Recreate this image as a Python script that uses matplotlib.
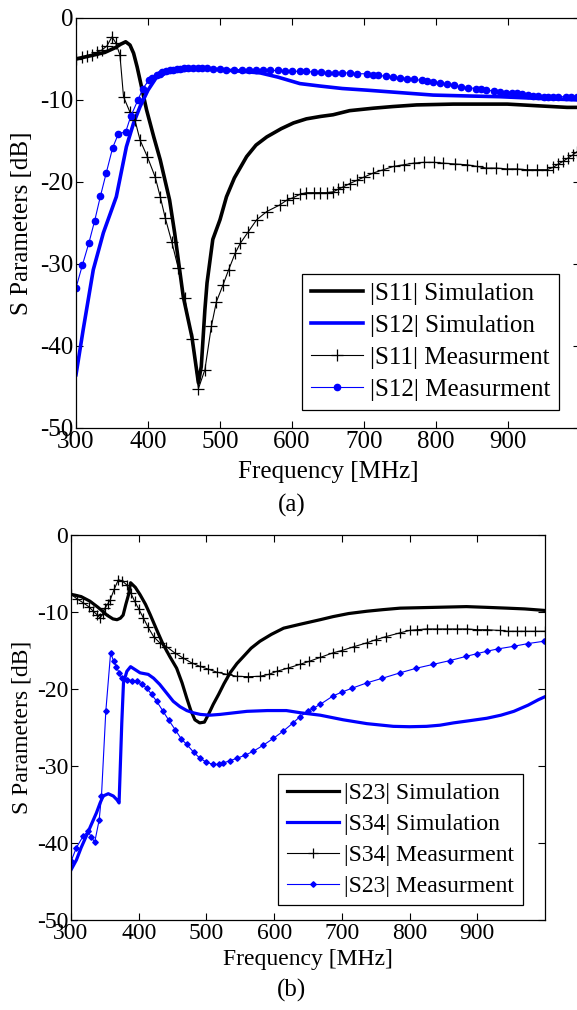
import matplotlib
matplotlib.use("Agg")
import matplotlib.pyplot as plt

plt.rcParams['font.family'] = ['Liberation Serif', 'DejaVu Serif']
plt.rcParams['axes.unicode_minus'] = False

# ---------------- panel (a) data ----------------
s11_sim_f = [300, 320, 340, 355, 362, 369, 375, 380, 385, 392, 398, 408, 417, 430,
             437, 449, 461, 470, 474, 479, 482, 490, 500, 509, 520, 537, 550, 565,
             585, 602, 620, 640, 657, 680, 713, 740, 773, 824, 860, 899, 940, 982, 1000]
s11_sim_db = [-5.0, -4.6, -4.2, -3.6, -3.2, -2.9, -3.3, -4.3, -6.0, -8.8, -11.2, -14.5,
              -17.3, -22.2, -26.2, -34.0, -38.9, -44.5, -42.5, -35.6, -32.3, -27.0,
              -24.6, -21.8, -19.5, -16.9, -15.5, -14.5, -13.5, -12.8, -12.3, -12.0,
              -11.8, -11.3, -11.0, -10.8, -10.6, -10.5, -10.5, -10.5, -10.7, -10.9, -10.9]

s12_sim_f = [300, 310, 324, 338, 356, 370, 380, 389, 400, 412, 425, 440, 460, 477, 500,
             530, 556, 580, 611, 639, 670, 704, 750, 796, 840, 889, 940, 1000]
s12_sim_db = [-43.5, -38.0, -30.7, -26.2, -21.8, -15.7, -12.8, -10.8, -8.8, -7.2, -6.7,
              -6.5, -6.3, -6.2, -6.3, -6.5, -6.7, -7.2, -8.0, -8.3, -8.6, -8.8, -9.1,
              -9.4, -9.5, -9.6, -9.8, -10.0]

s11_meas_f = [300, 308, 315, 322, 329, 336, 343, 350, 355, 361, 366, 375, 382, 389, 399,
              410, 417, 424, 433, 442, 451, 461, 470, 479, 488, 495, 504, 512, 521, 528,
              539, 551, 565, 583, 593, 602, 611, 620, 630, 639, 648, 657, 664, 671, 680,
              690, 700, 713, 727, 741, 755, 769, 783, 797, 810, 826, 843, 857, 870, 884,
              898, 912, 926, 940, 954, 963, 970, 976, 983, 990, 996]
s11_meas_db = [-5.0, -4.8, -4.6, -4.5, -4.2, -3.9, -3.4, -2.3, -3.0, -4.5, -9.6, -11.5,
               -12.5, -14.9, -16.9, -19.4, -21.8, -24.4, -27.3, -30.5, -34.2, -39.1,
               -45.2, -42.9, -37.6, -34.6, -32.6, -30.7, -28.7, -27.5, -26.1, -24.6,
               -23.6, -22.8, -22.2, -21.9, -21.5, -21.3, -21.3, -21.3, -21.3, -21.2,
               -20.9, -20.6, -20.2, -19.8, -19.4, -18.9, -18.5, -18.1, -17.9, -17.7,
               -17.6, -17.6, -17.7, -17.8, -17.9, -18.1, -18.3, -18.3, -18.4, -18.4,
               -18.5, -18.5, -18.5, -18.2, -17.8, -17.5, -17.1, -16.7, -16.3]

s12_meas_f = [300, 309, 318, 326, 334, 342, 351, 359, 369, 376, 386, 393, 401, 406, 412,
              416, 420, 425, 430, 435, 440, 445, 450, 456, 463, 469, 475, 482, 490, 500,
              509, 520, 530, 540, 550, 560, 570, 580, 590, 600, 611, 620, 630, 640, 650,
              660, 670, 680, 690, 704, 712, 720, 730, 740, 750, 760, 770, 780, 788, 796,
              805, 815, 825, 835, 845, 855, 862, 870, 880, 889, 897, 905, 912, 920, 928,
              935, 942, 950, 956, 963, 970, 980, 988, 996]
s12_meas_db = [-32.9, -30.1, -27.4, -24.7, -21.7, -18.9, -15.8, -14.1, -13.9, -12.0,
               -10.0, -8.6, -7.6, -7.3, -7.0, -6.8, -6.6, -6.5, -6.3, -6.3, -6.2, -6.2,
               -6.1, -6.1, -6.1, -6.1, -6.1, -6.1, -6.2, -6.2, -6.3, -6.3, -6.3, -6.3,
               -6.4, -6.4, -6.4, -6.4, -6.5, -6.5, -6.5, -6.5, -6.6, -6.6, -6.7, -6.7,
               -6.7, -6.7, -6.8, -6.8, -6.9, -7.0, -7.1, -7.2, -7.3, -7.4, -7.5, -7.6,
               -7.7, -7.8, -7.9, -8.1, -8.2, -8.4, -8.5, -8.6, -8.7, -8.8, -8.9, -9.0,
               -9.1, -9.2, -9.2, -9.3, -9.4, -9.5, -9.5, -9.6, -9.6, -9.6, -9.6, -9.6,
               -9.6, -9.6]

# ---------------- panel (b) data ----------------
s23_sim_f = [300, 315, 328, 340, 353, 362, 368, 373, 377, 381, 385, 388, 395, 402, 410,
             417, 426, 436, 446, 456, 464, 471, 477, 483, 490, 497, 503, 510, 518, 526,
             535, 545, 555, 566, 579, 596, 614, 638, 668, 687, 710, 737, 760, 786, 835,
             884, 915, 944, 970, 1000]
s23_sim_db = [-7.7, -8.0, -8.6, -9.4, -10.4, -10.9, -11.0, -10.8, -10.4, -9.0, -7.75,
              -6.2, -6.8, -7.75, -9.0, -10.35, -12.2, -14.2, -15.8, -17.3, -19.2, -21.2,
              -22.8, -24.0, -24.4, -24.3, -23.3, -22.0, -20.7, -19.3, -17.9, -16.7,
              -15.75, -14.7, -13.8, -12.9, -12.1, -11.6, -11.0, -10.6, -10.2, -9.9,
              -9.7, -9.5, -9.4, -9.3, -9.4, -9.5, -9.6, -9.8]

s34_sim_f = [300, 308, 315, 322.6, 330, 337.5, 343, 347.5, 355, 362.5, 368, 371, 373,
             375, 377.5, 382.5, 388, 395, 402, 414, 422, 431, 441, 451, 461, 471, 481,
             491, 505, 520, 540, 560, 590, 618, 640, 668, 702, 737, 776, 800, 825, 845,
             865, 890, 914, 935, 954, 975, 990, 1000]
s34_sim_db = [-43.5, -42.2, -40.6, -39.1, -37.6, -36.1, -34.8, -33.9, -33.6, -33.9,
              -34.4, -34.8, -29.6, -24.4, -19.2, -17.7, -17.1, -17.5, -17.9, -18.1,
              -18.6, -19.4, -20.5, -21.6, -22.3, -22.8, -23.1, -23.3, -23.4, -23.3,
              -23.1, -22.9, -22.8, -22.8, -23.1, -23.4, -24.0, -24.5, -24.85, -24.9,
              -24.85, -24.7, -24.4, -24.1, -23.8, -23.4, -22.9, -22.1, -21.4, -21.0]

s34_meas_f = [300, 309, 318, 326, 333, 339, 343, 347, 350, 354, 358, 364, 370, 376, 382,
              388, 394, 400, 407, 414, 422, 431, 441, 453, 466, 478, 490, 502, 515, 530,
              545, 562, 579, 592, 604, 620, 638, 652, 668, 687, 700, 718, 737, 750, 765,
              786, 800, 811, 825, 840, 855, 870, 885, 900, 915, 933, 945, 958, 970, 985,
              1000]
s34_meas_db = [-7.7, -8.3, -8.8, -9.3, -9.9, -10.4, -10.8, -10.2, -9.5, -9.0, -8.4,
               -7.0, -5.8, -6.0, -6.45, -7.5, -8.6, -9.6, -10.8, -12.0, -13.2, -14.0,
               -14.5, -15.3, -16.0, -16.6, -17.05, -17.4, -17.8, -18.1, -18.35, -18.4,
               -18.35, -18.1, -17.7, -17.3, -16.8, -16.4, -15.9, -15.3, -15.0, -14.5,
               -14.0, -13.6, -13.2, -12.7, -12.4, -12.3, -12.2, -12.2, -12.2, -12.2,
               -12.2, -12.3, -12.3, -12.4, -12.5, -12.5, -12.5, -12.5, -12.5]

s23_meas_f = [300, 308, 318, 325, 330, 335, 341.6, 345, 351.4, 358.5, 363, 367, 371, 375,
              382, 390, 397, 405, 412, 419, 426.6, 436, 444, 454, 463, 471, 481, 490.5,
              500, 510, 518, 525, 535, 545, 557, 569, 584, 599, 613, 628, 638, 650, 658,
              668, 687, 700, 715, 737, 760, 786, 810, 835, 860, 884, 900, 914, 930, 954,
              975, 998]
s23_meas_db = [-42.4, -40.6, -39.1, -38.5, -39.2, -39.9, -37.0, -33.9, -22.9, -15.3,
               -16.4, -17.1, -17.9, -18.6, -18.8, -18.9, -19.0, -19.4, -19.9, -20.7,
               -21.6, -22.9, -24.0, -25.3, -26.5, -27.2, -28.2, -29.0, -29.5, -29.8,
               -29.8, -29.6, -29.3, -29.0, -28.6, -28.1, -27.3, -26.4, -25.5, -24.4,
               -23.6, -22.9, -22.5, -22.0, -20.9, -20.4, -19.9, -19.2, -18.6, -17.9,
               -17.3, -16.8, -16.3, -15.75, -15.4, -15.1, -14.8, -14.45, -14.1, -13.8]

xtick_vals = [300, 400, 500, 600, 700, 800, 900]
ytick_vals = [0, -10, -20, -30, -40, -50]

W, H = 577, 1010
fig = plt.figure(figsize=(W / 100, H / 100), dpi=100)


def frame(ax, fs):
    ax.set_xlim(300, 1000)
    ax.set_ylim(-50, 0)
    ax.set_xticks(xtick_vals)
    ax.set_yticks(ytick_vals)
    ax.tick_params(direction='in', top=True, right=True, length=5, width=0.8,
                   labelsize=fs, pad=2)
    for sp in ax.spines.values():
        sp.set_linewidth(0.9)
    ax.set_xlabel("Frequency [MHz]", fontsize=fs)
    ax.set_ylabel("S Parameters [dB]", fontsize=fs)


# panel (a)
ax1 = fig.add_axes([76 / W, 1 - 428 / H, 504 / W, 410 / H])
ax1.plot(s11_sim_f, s11_sim_db, color='black', lw=2.6, label='|S11| Simulation')
ax1.plot(s12_sim_f, s12_sim_db, color='blue', lw=2.6, label='|S12| Simulation')
ax1.plot(s11_meas_f, s11_meas_db, color='black', lw=0.8, marker='+', ms=8, mew=0.9,
         label='|S11| Measurment')
ax1.plot(s12_meas_f, s12_meas_db, color='blue', lw=0.8, marker='o', ms=4.5,
         label='|S12| Measurment')
frame(ax1, 18)
ax1.xaxis.set_label_coords(0.5, -0.08)
ax1.yaxis.set_label_coords(-0.085, 0.5)
ax1.legend(loc='lower right', bbox_to_anchor=(0.958, 0.045), fontsize=18,
           fancybox=False, edgecolor='black', framealpha=1, numpoints=1,
           handlelength=2.1, handletextpad=0.25, labelspacing=0.38,
           borderpad=0.35, borderaxespad=0).get_frame().set_linewidth(0.9)
fig.text(292 / W, 1 - 505 / H, "(a)", fontsize=18, ha='center', va='center')

# panel (b)
ax2 = fig.add_axes([71 / W, 1 - 920 / H, 474 / W, 385 / H])
ax2.plot(s23_sim_f, s23_sim_db, color='black', lw=2.3, label='|S23| Simulation')
ax2.plot(s34_sim_f, s34_sim_db, color='blue', lw=2.3, label='|S34| Simulation')
ax2.plot(s34_meas_f, s34_meas_db, color='black', lw=0.8, marker='+', ms=7, mew=0.9,
         label='|S34| Measurment')
ax2.plot(s23_meas_f, s23_meas_db, color='blue', lw=0.8, marker='D', ms=2.8,
         label='|S23| Measurment')
frame(ax2, 17)
ax2.xaxis.set_label_coords(0.5, -0.075)
ax2.yaxis.set_label_coords(-0.082, 0.5)
ax2.legend(loc='lower right', bbox_to_anchor=(0.953, 0.038), fontsize=17,
           fancybox=False, edgecolor='black', framealpha=1, numpoints=1,
           handlelength=2.2, handletextpad=0.25, labelspacing=0.4,
           borderpad=0.35, borderaxespad=0).get_frame().set_linewidth(0.9)
fig.text(292 / W, 1 - 990 / H, "(b)", fontsize=18, ha='center', va='center')

fig.savefig("out.png", dpi=100)
